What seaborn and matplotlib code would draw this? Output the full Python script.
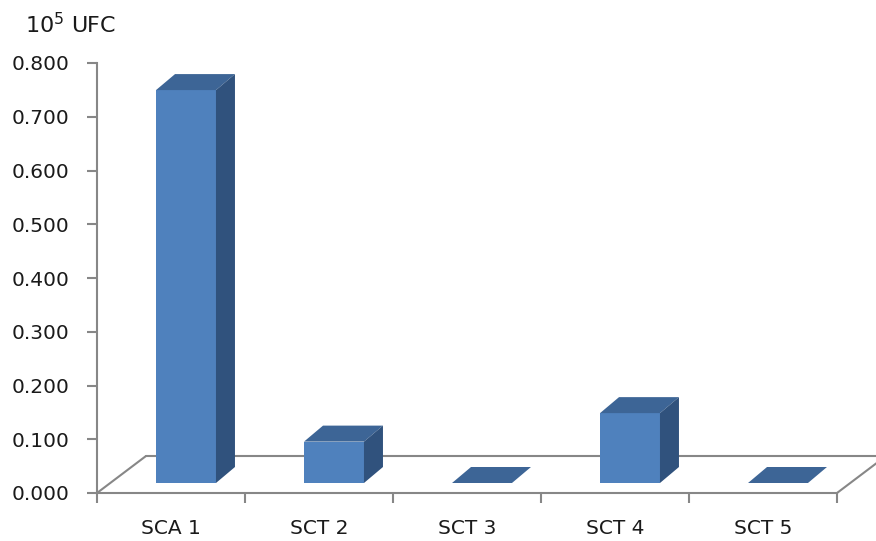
import matplotlib
matplotlib.use("Agg")
import matplotlib.pyplot as plt
from matplotlib.patches import Polygon
import seaborn as sns
import pandas as pd

categories = ["SCA 1", "SCT 2", "SCT 3", "SCT 4", "SCT 5"]
values = [0.731, 0.077, 0.0, 0.130, 0.0]
y_ticks = [0.0, 0.1, 0.2, 0.3, 0.4, 0.5, 0.6, 0.7, 0.8]
unit_label = "10$^{5}$ UFC"

FRONT = "#4F81BD"
TOP = "#3D6596"
SIDE = "#30527D"
AXIS = "#878787"

sns.set_style("white")
plt.rcParams["font.family"] = ["DejaVu Sans"]
plt.rcParams["mathtext.default"] = "regular"

W, H = 876, 541
fig = plt.figure(figsize=(W / 100, H / 100), dpi=100)
ax = fig.add_axes([97 / W, 48 / H, 740 / W, 430 / H])

df = pd.DataFrame({"cat": categories, "val": values})
sns.barplot(data=df, x="cat", y="val", color=FRONT, saturation=1,
            width=0.405, ax=ax, zorder=3, edgecolor="none")

ax.set_xlim(-0.5, len(categories) - 0.5)
ax.set_ylim(0, 0.8)

# pixel -> data conversions
px_x = 1 / 148.0
px_y = 0.8 / 430.0
shift = 15 * px_x
base = 10 * px_y
ddx = 19 * px_x
ddy = 16 * px_y

for p in list(ax.patches):
    x0 = p.get_x() + shift
    h = p.get_height()
    w = p.get_width()
    p.set_x(x0)
    p.set_y(base)
    y1 = base + h
    top = Polygon([(x0, y1), (x0 + ddx, y1 + ddy), (x0 + w + ddx, y1 + ddy), (x0 + w, y1)],
                  closed=True, facecolor=TOP, edgecolor="none", zorder=4, clip_on=False)
    side = Polygon([(x0 + w, base), (x0 + w + ddx, base + ddy), (x0 + w + ddx, y1 + ddy), (x0 + w, y1)],
                   closed=True, facecolor=SIDE, edgecolor="none", zorder=4, clip_on=False)
    ax.add_patch(top)
    ax.add_patch(side)

# 3D floor
fdx = 49 * px_x
fdy = 37 * px_y
x_lo, x_hi = -0.5, len(categories) - 0.5
ax.plot([x_lo, x_lo + fdx], [0, fdy], color=AXIS, lw=1.5, zorder=1, clip_on=False)
ax.plot([x_hi, x_hi + fdx], [0, fdy], color=AXIS, lw=1.5, zorder=1, clip_on=False)
ax.plot([x_lo + fdx, x_hi + fdx], [fdy, fdy], color=AXIS, lw=1.5, zorder=1, clip_on=False)

# axes styling
for s in ["top", "right"]:
    ax.spines[s].set_visible(False)
for s in ["left", "bottom"]:
    ax.spines[s].set_color(AXIS)
    ax.spines[s].set_linewidth(1.5)
ax.set_yticks(y_ticks)
ax.set_yticklabels([f"{v:.3f}" for v in y_ticks])
ax.set_xticks([i - 0.5 for i in range(len(categories) + 1)], minor=False)
ax.set_xticklabels([""] * (len(categories) + 1))
ax.set_xticks(range(len(categories)), minor=True)
ax.set_xticklabels(categories, minor=True)
ax.tick_params(axis="y", left=True, direction="out", length=7, width=1.5, color=AXIS,
               labelsize=14.5, pad=13, labelcolor="#1a1a1a")
ax.tick_params(axis="x", which="major", bottom=True, direction="out", length=7, width=1.5, color=AXIS)
ax.tick_params(axis="x", which="minor", bottom=True, length=0, labelsize=14.5, pad=19, labelcolor="#1a1a1a")
ax.set_xlabel("")
ax.set_ylabel("")
ax.grid(False)

fig.text(25 / W, 1 - 25 / H, unit_label, ha="left", va="center", fontsize=16, color="#1a1a1a")

fig.savefig("out.png", dpi=100)
